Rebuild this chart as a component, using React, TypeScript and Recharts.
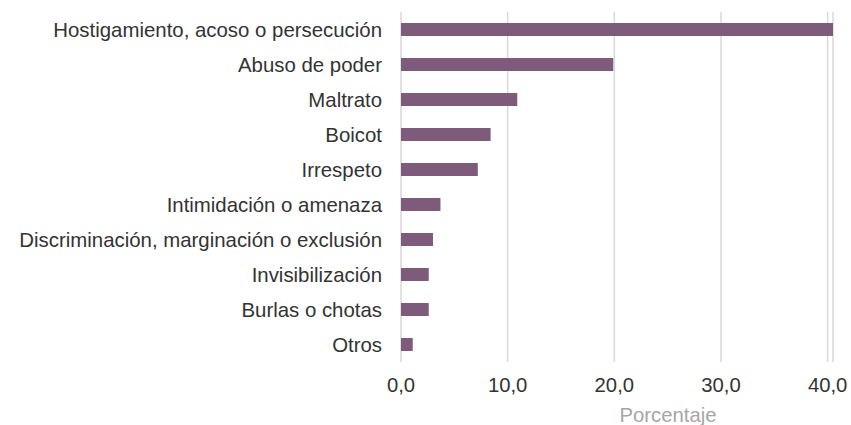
import React from 'react';
import { BarChart, Bar, XAxis, YAxis, CartesianGrid, Label } from 'recharts';

// categorías (de arriba hacia abajo)
const categories = [
  'Hostigamiento, acoso o persecución',
  'Abuso de poder',
  'Maltrato',
  'Boicot',
  'Irrespeto',
  'Intimidación o amenaza',
  'Discriminación, marginación o exclusión',
  'Invisibilización',
  'Burlas o chotas',
  'Otros',
];

const percentages = [40.5, 19.9, 10.9, 8.4, 7.2, 3.7, 3.0, 2.6, 2.6, 1.1];

const xTicks = [0, 10, 20, 30, 40];

const data = categories.map((name, i) => ({ name, value: percentages[i] }));

const formatTick = (v: number) => v.toFixed(1).replace('.', ',');

const App: React.FC = () => {
  return (
    <div style={{ position: 'absolute', left: 0, top: 0, fontFamily: '"Liberation Sans", Arial, sans-serif' }}>
      <BarChart
        width={851}
        height={425}
        data={data}
        layout="vertical"
        margin={{ top: 12, right: 18, left: 0, bottom: 0 }}
      >
        <CartesianGrid horizontal={false} stroke="#d9d9d9" strokeWidth={1.5} />
        <XAxis
          type="number"
          domain={[0, 40.5]}
          ticks={xTicks}
          tickFormatter={formatTick}
          axisLine={false}
          tickLine={false}
          tickMargin={10}
          height={63}
          tick={{ fontSize: 20.3, fill: '#333333' }}
        >
          <Label
            content={() => (
              <text x={668} y={422} textAnchor="middle" fontSize={20.3} fill="#a6a6a6">
                Porcentaje
              </text>
            )}
          />
        </XAxis>
        <YAxis
          type="category"
          dataKey="name"
          width={401}
          axisLine={false}
          tickLine={false}
          tickMargin={13}
          interval={0}
          tick={{ fontSize: 20.4, fill: '#333333' }}
        />
        <Bar dataKey="value" fill="#7e5a7b" barSize={13} isAnimationActive={false} />
      </BarChart>
    </div>
  );
};

export default App;
